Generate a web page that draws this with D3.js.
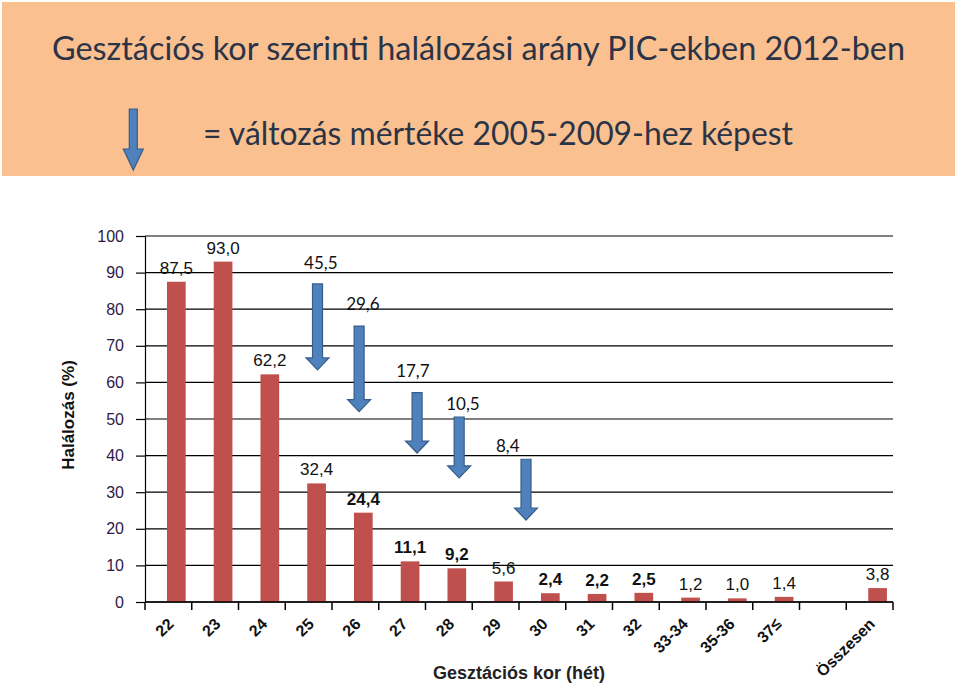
<!DOCTYPE html>
<html><head><meta charset="utf-8">
<script src="https://cdn.jsdelivr.net/npm/d3@7"></script>
<style>body{margin:0;background:#fff}svg{display:block}</style>
</head><body>
<script>
// ---- data ----
const categories = ["22","23","24","25","26","27","28","29","30","31","32","33-34","35-36","37≤","","Összesen"];
const values = [87.5,93.0,62.2,32.4,24.4,11.1,9.2,5.6,2.4,2.2,2.5,1.2,1.0,1.4,null,3.8];
const valueLabels = ["87,5","93,0","62,2","32,4","24,4","11,1","9,2","5,6","2,4","2,2","2,5","1,2","1,0","1,4","","3,8"];
const yTicks = [0,10,20,30,40,50,60,70,80,90,100];
// change vs 2005-2009 (arrows): category, label, arrow top, arrow tip, label value position
const changeCats = ["25","26","27","28","29"];
const changeLabels = ["45,5","29,6","17,7","10,5","8,4"];
const arrowTop = [86.9,75.4,57.2,50.5,39.0];
const arrowTip = [63.4,52.0,40.7,33.9,22.4];
const labelAt = [91.0,79.8,61.4,52.4,40.9];
const arrowShift = [0.19,0.08,0.32,0.22,0.65];   // horizontal shift in band units
const labelShift = [0.26,0.16,0.23,0.30,0.26];
const boldLabels = [4,5,6,8,9,10];

const W = 960, H = 689;
const svg = d3.select("body").append("svg").attr("width", W).attr("height", H);

// header
svg.append("rect").attr("x",2).attr("y",2).attr("width",953).attr("height",174).attr("fill","#fac090");
svg.append("text").attr("x",52).attr("y",60).attr("font-family","Lato, 'Open Sans', sans-serif")
  .attr("font-size",32).attr("fill","#2b3447").attr("textLength",853).attr("lengthAdjust","spacingAndGlyphs")
  .text("Gesztációs kor szerinti halálozási arány PIC-ekben  2012-ben");
svg.append("text").attr("x",203).attr("y",145).attr("font-family","Lato, 'Open Sans', sans-serif")
  .attr("font-size",32).attr("fill","#2b3447").attr("textLength",590).attr("lengthAdjust","spacingAndGlyphs")
  .text("= változás mértéke 2005-2009-hez képest");

function arrowPath(cx, yTop, yTip, shaftW, headW, headH){
  const s = shaftW/2, h = headW/2, yh = yTip - headH;
  return `M${cx-s},${yTop}L${cx+s},${yTop}L${cx+s},${yh}L${cx+h},${yh}L${cx},${yTip}L${cx-h},${yh}L${cx-s},${yh}Z`;
}
svg.append("path").attr("d", arrowPath(133.3,109,170,8,20,21))
  .attr("fill","#4f81bd").attr("stroke","#385d8a").attr("stroke-width",1.2);

// chart
const x0 = 145, x1 = 893, yB = 602, yT = 236;
const x = d3.scaleBand().domain(categories.map((c,i)=>i)).range([x0,x1]).padding(0);
const y = d3.scaleLinear().domain([0,100]).range([yB,yT]);
const bw = x.bandwidth();
const barOff = bw*0.47, barW = bw*0.40;

const g = svg.append("g");
// gridlines
g.selectAll("line.grid").data(yTicks).join("line")
  .attr("x1",x0).attr("x2",x1).attr("y1",d=>y(d)).attr("y2",d=>y(d))
  .attr("stroke","#000").attr("stroke-width",1.2);

// y axis
const yAxis = d3.axisLeft(y).tickValues(yTicks).tickSize(9).tickPadding(12);
const ya = svg.append("g").attr("transform",`translate(${x0},0)`).call(yAxis);
ya.select(".domain").attr("stroke","#000").attr("stroke-width",1.2);
ya.selectAll(".tick line").attr("stroke","#000").attr("stroke-width",1.2);
ya.selectAll(".tick text").attr("font-family","'Liberation Sans', Arial, sans-serif")
  .attr("font-size",16).attr("fill","#2e1a47");

// bars
g.selectAll("rect.bar").data(values.map((v,i)=>({v,i})).filter(d=>d.v!=null)).join("rect")
  .attr("x",d=>x(d.i)+barOff).attr("width",barW)
  .attr("y",d=>y(d.v)).attr("height",d=>yB-y(d.v)).attr("fill","#c0504d");

// value labels
g.selectAll("text.val").data(values.map((v,i)=>({v,i})).filter(d=>d.v!=null)).join("text")
  .attr("x",d=>x(d.i)+barOff+barW/2).attr("y",d=>y(d.v)-8)
  .attr("text-anchor","middle").attr("font-family","'Liberation Sans', Arial, sans-serif")
  .attr("font-size",17).attr("font-weight",d=>boldLabels.includes(d.i)?"bold":"normal")
  .attr("fill","#111").text(d=>valueLabels[d.i]);

// x axis
const xa = svg.append("g").attr("transform",`translate(0,${yB})`);
xa.append("line").attr("x1",x0).attr("x2",x1).attr("stroke","#000").attr("stroke-width",1.5);
const bounds = categories.map((c,i)=>x(i)).concat([x1]);
xa.selectAll("line.tk").data(bounds).join("line")
  .attr("x1",d=>d).attr("x2",d=>d).attr("y1",0).attr("y2",8).attr("stroke","#000").attr("stroke-width",1.5);
xa.selectAll("text.cat").data(categories).join("text")
  .attr("transform",(d,i)=>`translate(${x(i)+bw*0.55},19) rotate(-45)`)
  .attr("text-anchor","end").attr("dy","0.35em")
  .attr("font-family","'Liberation Sans', Arial, sans-serif").attr("font-size",16).attr("font-weight","bold")
  .attr("fill","#111").text(d=>d);

// axis titles
svg.append("text").attr("transform",`translate(74,415) rotate(-90)`).attr("text-anchor","middle")
  .attr("font-family","'Liberation Sans', Arial, sans-serif").attr("font-size",17).attr("font-weight","bold")
  .attr("fill","#111").text("Halálozás (%)");
svg.append("text").attr("x",519).attr("y",679).attr("text-anchor","middle")
  .attr("font-family","'Liberation Sans', Arial, sans-serif").attr("font-size",18).attr("font-weight","bold")
  .attr("fill","#222").text("Gesztációs kor (hét)");

// change arrows
const ci = c => categories.indexOf(c);
changeCats.forEach((c,k)=>{
  svg.append("path").attr("d", arrowPath(x(ci(c))+bw*(0.5+arrowShift[k]), y(arrowTop[k]), y(arrowTip[k]), 10, 23, 12))
    .attr("fill","#4f81bd").attr("stroke","#385d8a").attr("stroke-width",1.2);
  svg.append("text").attr("x", x(ci(c))+bw*(0.5+labelShift[k])).attr("y", y(labelAt[k]))
    .attr("text-anchor","middle").attr("font-family","Lato, 'Open Sans', sans-serif").attr("font-size",17)
    .attr("fill","#111").text(changeLabels[k]);
});
</script>
</body></html>
